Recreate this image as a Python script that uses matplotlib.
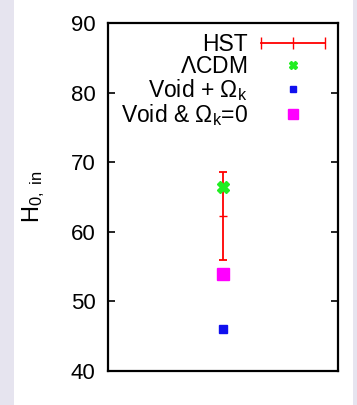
import matplotlib
matplotlib.use("Agg")
import matplotlib.pyplot as plt
from matplotlib.lines import Line2D
from matplotlib.patches import Rectangle
from matplotlib.legend_handler import HandlerLine2D

plt.rcParams['font.family'] = ['Liberation Sans', 'DejaVu Sans']
plt.rcParams['mathtext.fontset'] = 'custom'
plt.rcParams['mathtext.rm'] = 'Liberation Sans'
plt.rcParams['mathtext.it'] = 'Liberation Sans'
plt.rcParams['mathtext.bf'] = 'Liberation Sans:bold'

# values
hst_x = [1]
hst_h0 = [62.3]
hst_err = [6.3]
lcdm_h0 = [66.4]
void_ok_h0 = [46.0]
void_ok0_h0 = [54.0]
yticks = [40, 50, 60, 70, 80, 90]

fig = plt.figure(figsize=(3.57, 4.05), dpi=100)
fig.patch.set_facecolor('#e6e4ef')
fig.patches.append(Rectangle((14 / 357, 0), (353 - 14) / 357, 1, transform=fig.transFigure,
                             facecolor='white', edgecolor='none', zorder=-10))

ax = fig.add_axes([108 / 357, 1 - 371 / 405, 230 / 357, 348 / 405])

ax.errorbar(hst_x, hst_h0, yerr=hst_err, color='red', lw=1.3, capsize=3, capthick=1.3,
            marker='_', markersize=6, zorder=3)
ax.plot(hst_x, lcdm_h0, linestyle='none', marker='X', color='#22ee22', markersize=8, zorder=4)
ax.plot(hst_x, void_ok_h0, linestyle='none', marker='s', color='#1010ee', markersize=6, zorder=4)
ax.plot(hst_x, void_ok0_h0, linestyle='none', marker='s', color='#ff00ff', markersize=8.5,
        zorder=4)

ax.set_xlim(0, 2)
ax.set_ylim(40, 90)
ax.set_xticks([])
ax.set_yticks(yticks)
ax.tick_params(axis='y', direction='in', length=5, width=1.2, right=True, labelsize=16, pad=9)
for s in ax.spines.values():
    s.set_linewidth(1.6)
ax.set_ylabel(r'H$_{0,\ in}$', fontsize=17, labelpad=17)

hst_handle = Line2D([], [], color='red', lw=1.3, marker='|', markersize=8)
handles = [
    hst_handle,
    Line2D([], [], linestyle='none', marker='X', color='#22ee22', markersize=6),
    Line2D([], [], linestyle='none', marker='s', color='#1010ee', markersize=5),
    Line2D([], [], linestyle='none', marker='s', color='#ff00ff', markersize=7),
]
labels = ['HST', r'$\Lambda$CDM', r'Void + $\Omega_k$', r'Void & $\Omega_k$=0']
leg = ax.legend(handles, labels, loc='upper right', bbox_to_anchor=(1.02, 1.0),
                markerfirst=False, frameon=False,
                fontsize=16.5, handlelength=3.4, handletextpad=0.3, labelspacing=-0.05,
                borderaxespad=0.15, borderpad=0.3, numpoints=1,
                handler_map={hst_handle: HandlerLine2D(numpoints=3)})

fig.savefig('out.png', dpi=100)
